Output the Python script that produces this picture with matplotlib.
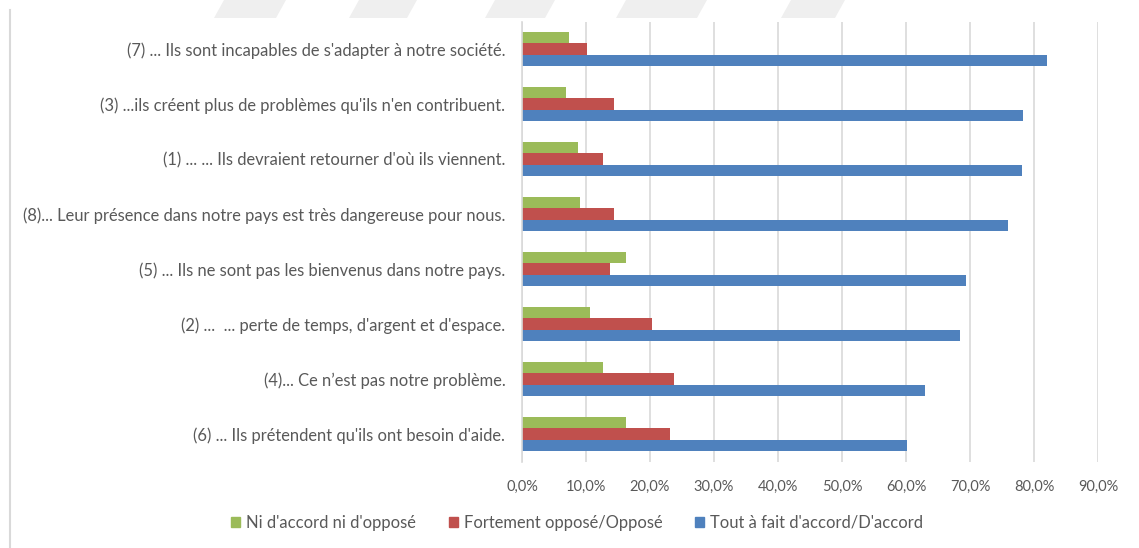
import matplotlib
matplotlib.use("Agg")
import matplotlib.pyplot as plt
from matplotlib.ticker import FuncFormatter
from matplotlib.patches import Polygon, Rectangle
from matplotlib.lines import Line2D

categories = [
    "(7) ... Ils sont incapables de s'adapter à notre société.",
    "(3) ...ils créent plus de problèmes qu'ils n'en contribuent.",
    "(1) ... ... Ils devraient retourner d'où ils viennent.",
    "(8)... Leur présence dans notre pays est très dangereuse pour nous.",
    "(5) ... Ils ne sont pas les bienvenus dans notre pays.",
    "(2) ...  ... perte de temps, d'argent et d'espace.",
    "(4)... Ce n\u2019est pas notre problème.",
    "(6) ... Ils prétendent qu'ils ont besoin d'aide.",
]
neutre = [7.4, 6.9, 8.7, 9.0, 16.2, 10.7, 12.6, 16.2]
oppose = [10.2, 14.3, 12.6, 14.4, 13.8, 20.3, 23.7, 23.1]
accord = [82.0, 78.3, 78.1, 75.9, 69.4, 68.4, 63.0, 60.1]

series_names = ["Ni d'accord ni d'opposé", "Fortement opposé/Opposé",
                "Tout à fait d'accord/D'accord"]
colors = ["#9BBB59", "#C0504D", "#4F81BD"]

plt.rcParams['font.family'] = ['Lato', 'DejaVu Sans']
txt = "#595959"

fig = plt.figure(figsize=(11.39, 5.48), dpi=100)
ax = fig.add_axes([522 / 1139, 1 - 461.5 / 548, (1098 - 522) / 1139, 440 / 548])

h = 0.21
ypos = list(range(len(categories)))
for vals, off, col in zip([neutre, oppose, accord], [-h, 0, h], colors):
    ax.barh([y + off for y in ypos], vals, height=h, color=col)

ax.set_xlim(0, 90)
ax.set_ylim(len(categories) - 0.5, -0.5)
ax.set_xticks(range(0, 91, 10))
ax.xaxis.set_major_formatter(FuncFormatter(lambda v, p: f"{v:.1f}%".replace(".", ",")))
ax.set_yticks(ypos)
ax.set_yticklabels(categories)
ax.tick_params(axis='both', length=0, colors=txt)
ax.tick_params(axis='x', pad=13, labelsize=10.5)
ax.tick_params(axis='y', pad=12, labelsize=11.9)
ax.grid(axis='x', color="#D9D9D9", linewidth=1.2)
ax.set_axisbelow(True)
for s in ["top", "right", "bottom"]:
    ax.spines[s].set_visible(False)
ax.spines["left"].set_color("#D9D9D9")
ax.spines["left"].set_linewidth(1.2)

handles = [Rectangle((0, 0), 1, 1, color=c) for c in colors]
fig.legend(handles, series_names, loc="center", bbox_to_anchor=(577 / 1139, 1 - 523 / 548),
           ncol=3, frameon=False, fontsize=11.9, labelcolor=txt,
           handlelength=0.55, handleheight=0.55, handletextpad=0.35, columnspacing=2.0)

# chart frame edge on the left
fig.add_artist(Line2D([10 / 1139, 10 / 1139], [0, 1 - 10 / 548], color="#D9D9D9", lw=1.5))

# faint watermark shapes along the top
for x0, x1 in [(214, 276), (349, 407), (485, 545), (616, 697), (781, 835)]:
    pts = [(x0 / 1139, 1 - 18 / 548), (x1 / 1139, 1 - 18 / 548),
           ((x1 + 10) / 1139, 1.0), ((x0 + 10) / 1139, 1.0)]
    fig.add_artist(Polygon(pts, closed=True, color="#EFEFEF", lw=0))

fig.savefig("out.png", dpi=100)
